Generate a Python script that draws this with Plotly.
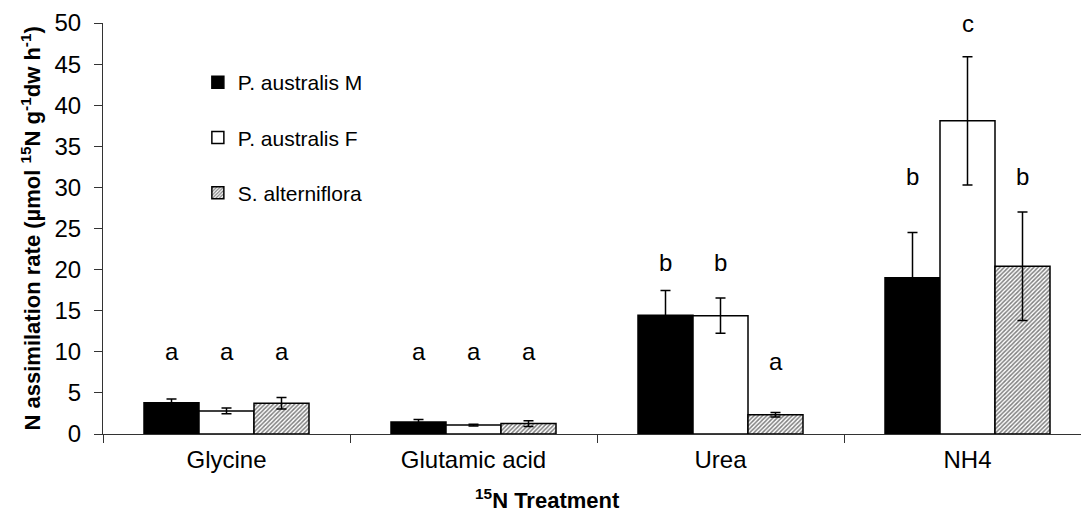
import plotly.graph_objects as go

categories = ["Glycine", "Glutamic acid", "Urea", "NH4"]
series_names = ["P. australis M", "P. australis F", "S. alterniflora"]

vals_M = [3.8, 1.45, 14.45, 19.0]
err_M = [0.45, 0.3, 3.0, 5.5]
vals_F = [2.8, 1.08, 14.4, 38.1]
err_F = [0.35, 0.1, 2.15, 7.8]
vals_S = [3.75, 1.27, 2.35, 20.4]
err_S = [0.7, 0.35, 0.28, 6.6]

letters_M = ["a", "a", "b", "b"]
letters_F = ["a", "a", "b", "c"]
letters_S = ["a", "a", "a", "b"]
letter_y_M = [10.0, 10.0, 20.9, 31.3]
letter_y_F = [10.0, 10.0, 20.9, 50.0]
letter_y_S = [10.0, 10.0, 8.8, 31.3]

FONT = "Liberation Sans, Arial, sans-serif"
BARGAP = 0.332
bw = (1 - BARGAP) / 3

fig = go.Figure()
styles = [
    dict(color="black", pattern=None),
    dict(color="white", pattern=None),
    dict(color="white", pattern=dict(shape="/", fgcolor="black", bgcolor="white", size=3, solidity=0.5)),
]
for i, (name, v, e) in enumerate(zip(series_names, [vals_M, vals_F, vals_S], [err_M, err_F, err_S])):
    marker = dict(color=styles[i]["color"], line=dict(color="black", width=1.5))
    if styles[i]["pattern"]:
        marker["pattern"] = styles[i]["pattern"]
    fig.add_trace(go.Bar(
        x=categories, y=v, name=name, legendgroup=name, marker=marker,
        error_y=dict(type="data", array=e, visible=True, color="black", thickness=1.5, width=5),
    ))

annotations = []
for j, (lets, ly) in enumerate([(letters_M, letter_y_M), (letters_F, letter_y_F), (letters_S, letter_y_S)]):
    for i in range(len(categories)):
        annotations.append(dict(
            x=i + (j - 1) * bw, y=ly[i], xref="x", yref="y", text=lets[i],
            showarrow=False, font=dict(family=FONT, size=24, color="black"),
            xanchor="center", yanchor="middle"))

annotations.append(dict(
    x=(30 - 103) / 978, y=0.5, xref="paper", yref="paper", textangle=-90,
    text="<b>N assimilation rate (µmol <sup>15</sup>N g<sup>-1</sup>dw h<sup>-1</sup>)</b>",
    showarrow=False, font=dict(family=FONT, size=22, color="black"),
    xanchor="center", yanchor="middle"))
annotations.append(dict(
    x=(547 - 103) / 978, y=(434 - 499) / 411, xref="paper", yref="paper",
    text="<b><sup>15</sup>N Treatment</b>",
    showarrow=False, font=dict(family=FONT, size=22, color="black"),
    xanchor="center", yanchor="middle"))

fig.update_layout(
    width=1081, height=531,
    margin=dict(l=103, r=0, t=23, b=97),
    plot_bgcolor="white", paper_bgcolor="white",
    barmode="group", bargap=BARGAP, bargroupgap=0,
    font=dict(family=FONT, color="black"),
    showlegend=True,
    legend=dict(x=0.097, y=0.905, xanchor="left", yanchor="top",
                font=dict(family=FONT, size=21, color="black"),
                tracegroupgap=25, bgcolor="rgba(0,0,0,0)"),
    annotations=annotations,
    xaxis=dict(range=[-0.5, 3.4595], showline=True, linecolor="#333", linewidth=1,
               ticks="outside", tickson="boundaries", ticklen=8, tickcolor="#333",
               ticklabelstandoff=4,
               tickfont=dict(family=FONT, size=24, color="black"), showgrid=False),
    yaxis=dict(range=[0, 50], dtick=5, showline=True, linecolor="#333", linewidth=1,
               ticks="outside", ticklen=8, tickcolor="#333", showgrid=False, zeroline=False,
               ticklabelstandoff=8,
               tickfont=dict(family=FONT, size=24, color="black")),
)

fig.write_html("out.html")
